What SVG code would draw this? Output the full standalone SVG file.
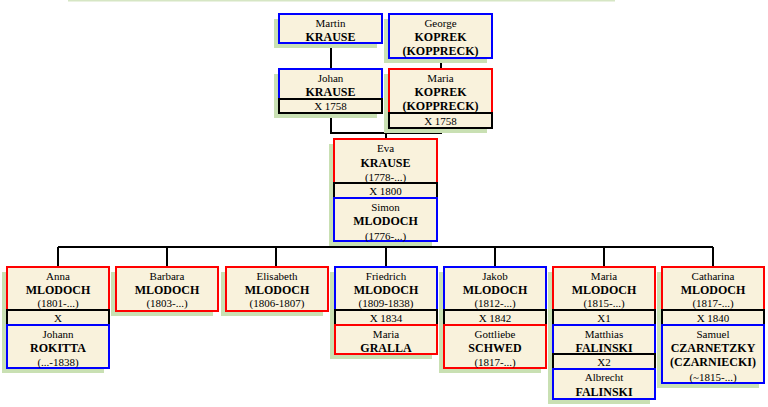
<svg xmlns="http://www.w3.org/2000/svg" width="768" height="407" viewBox="0 0 768 407">
<style>
.sh{fill:#c9e0b3}
.r{fill:#f9f2dc;stroke:#ff0000;stroke-width:2}
.b{fill:#f9f2dc;stroke:#0000ff;stroke-width:2}
.x{fill:#f9f2dc;stroke:#000;stroke-width:2}
.c{fill:none;stroke:#000;stroke-width:2}
.g{font-size:11px}
.s{font-size:12px;font-weight:bold}
</style>
<rect x="68" y="0" width="547" height="1.5" fill="#d6e6c4"/>
<g id="connectors">
<path class="c" d="M331,43V69 M441,58V69 M331,113V133H441V128 M386,133V139 M386,241V247 M58,247H713 M58,247V267 M167,247V267 M276,247V267 M386,247V267 M495,247V267 M604,247V267 M713,247V267"/>
</g>
<g font-family="'Liberation Serif', 'DejaVu Serif', serif" text-anchor="middle" fill="#000">
<g id="martin">
<rect class="sh" x="274" y="19" width="103" height="29"/>
<rect class="b" x="279" y="14" width="103" height="29"/>
<text class="g" x="330.5" y="27">Martin</text>
<text class="s" x="330.5" y="41">KRAUSE</text>
</g>
<g id="george">
<rect class="sh" x="384" y="19" width="103" height="44"/>
<rect class="b" x="389" y="14" width="103" height="44"/>
<text class="g" x="440.5" y="27">George</text>
<text class="s" x="440.5" y="41">KOPREK</text>
<text class="s" x="440.5" y="55">(KOPPRECK)</text>
</g>
<g id="johan">
<rect class="sh" x="274" y="74" width="103" height="44"/>
<rect class="b" x="279" y="69" width="103" height="30"/>
<text class="g" x="330.5" y="82">Johan</text>
<text class="s" x="330.5" y="96">KRAUSE</text>
<rect class="x" x="279" y="99" width="103" height="14"/>
<text class="g" x="330.5" y="110">X 1758</text>
</g>
<g id="maria-koprek">
<rect class="sh" x="384" y="74" width="103" height="59"/>
<rect class="r" x="389" y="69" width="103" height="44"/>
<text class="g" x="440.5" y="82">Maria</text>
<text class="s" x="440.5" y="96">KOPREK</text>
<text class="s" x="440.5" y="110">(KOPPRECK)</text>
<rect class="x" x="389" y="113" width="103" height="15"/>
<text class="g" x="440.5" y="124.5">X 1758</text>
</g>
<g id="eva-simon">
<rect class="sh" x="329" y="144" width="103" height="102"/>
<rect class="r" x="334" y="139" width="103" height="44"/>
<text class="g" x="385.5" y="152">Eva</text>
<text class="s" x="385.5" y="167">KRAUSE</text>
<text class="g" x="385.5" y="181">(1778-...)</text>
<rect class="x" x="334" y="183" width="103" height="15"/>
<text class="g" x="385.5" y="195">X 1800</text>
<rect class="b" x="334" y="198" width="103" height="43"/>
<text class="g" x="385.5" y="211">Simon</text>
<text class="s" x="385.5" y="225">MLODOCH</text>
<text class="g" x="385.5" y="240">(1776-...)</text>
</g>
<g id="anna">
<rect class="sh" x="2" y="272" width="102" height="101"/>
<rect class="r" x="7" y="267" width="102" height="43"/>
<text class="g" x="58" y="280">Anna</text>
<text class="s" x="58" y="294">MLODOCH</text>
<text class="g" x="58" y="307">(1801-...)</text>
<rect class="x" x="7" y="310" width="102" height="15"/>
<text class="g" x="58" y="322">X</text>
<rect class="b" x="7" y="325" width="102" height="43"/>
<text class="g" x="58" y="338">Johann</text>
<text class="s" x="58" y="352">ROKITTA</text>
<text class="g" x="58" y="366">(...-1838)</text>
</g>
<g id="barbara">
<rect class="sh" x="111" y="272" width="102" height="44"/>
<rect class="r" x="116" y="267" width="102" height="44"/>
<text class="g" x="167" y="280">Barbara</text>
<text class="s" x="167" y="294">MLODOCH</text>
<text class="g" x="167" y="307">(1803-...)</text>
</g>
<g id="elisabeth">
<rect class="sh" x="221" y="272" width="102" height="44"/>
<rect class="r" x="226" y="267" width="102" height="44"/>
<text class="g" x="277" y="280">Elisabeth</text>
<text class="s" x="277" y="294">MLODOCH</text>
<text class="g" x="277" y="307">(1806-1807)</text>
</g>
<g id="friedrich">
<rect class="sh" x="330" y="272" width="102" height="87"/>
<rect class="b" x="335" y="267" width="102" height="43"/>
<text class="g" x="386" y="280">Friedrich</text>
<text class="s" x="386" y="294">MLODOCH</text>
<text class="g" x="386" y="307">(1809-1838)</text>
<rect class="x" x="335" y="310" width="102" height="15"/>
<text class="g" x="386" y="322">X 1834</text>
<rect class="r" x="335" y="325" width="102" height="29"/>
<text class="g" x="386" y="338">Maria</text>
<text class="s" x="386" y="352">GRALLA</text>
</g>
<g id="jakob">
<rect class="sh" x="439" y="272" width="102" height="101"/>
<rect class="b" x="444" y="267" width="102" height="43"/>
<text class="g" x="495" y="280">Jakob</text>
<text class="s" x="495" y="294">MLODOCH</text>
<text class="g" x="495" y="307">(1812-...)</text>
<rect class="x" x="444" y="310" width="102" height="15"/>
<text class="g" x="495" y="322">X 1842</text>
<rect class="r" x="444" y="325" width="102" height="43"/>
<text class="g" x="495" y="338">Gottliebe</text>
<text class="s" x="495" y="352">SCHWED</text>
<text class="g" x="495" y="366">(1817-...)</text>
</g>
<g id="maria-mlodoch">
<rect class="sh" x="548" y="272" width="102" height="132"/>
<rect class="r" x="553" y="267" width="102" height="43"/>
<text class="g" x="604" y="280">Maria</text>
<text class="s" x="604" y="294">MLODOCH</text>
<text class="g" x="604" y="307">(1815-...)</text>
<rect class="x" x="553" y="310" width="102" height="15"/>
<text class="g" x="604" y="322">X1</text>
<rect class="b" x="553" y="325" width="102" height="29"/>
<text class="g" x="604" y="338">Matthias</text>
<text class="s" x="604" y="352">FALINSKI</text>
<rect class="x" x="553" y="354" width="102" height="15"/>
<text class="g" x="604" y="366">X2</text>
<rect class="b" x="553" y="369" width="102" height="30"/>
<text class="g" x="604" y="381">Albrecht</text>
<text class="s" x="604" y="396">FALINSKI</text>
</g>
<g id="catharina">
<rect class="sh" x="657" y="272" width="102" height="116"/>
<rect class="r" x="662" y="267" width="102" height="43"/>
<text class="g" x="713" y="280">Catharina</text>
<text class="s" x="713" y="294">MLODOCH</text>
<text class="g" x="713" y="307">(1817-...)</text>
<rect class="x" x="662" y="310" width="102" height="15"/>
<text class="g" x="713" y="322">X 1840</text>
<rect class="b" x="662" y="325" width="102" height="58"/>
<text class="g" x="713" y="338">Samuel</text>
<text class="s" x="713" y="352">CZARNETZKY</text>
<text class="s" x="713" y="366">(CZARNIECKI)</text>
<text class="g" x="713" y="381">(~1815-...)</text>
</g>
</g>
</svg>
